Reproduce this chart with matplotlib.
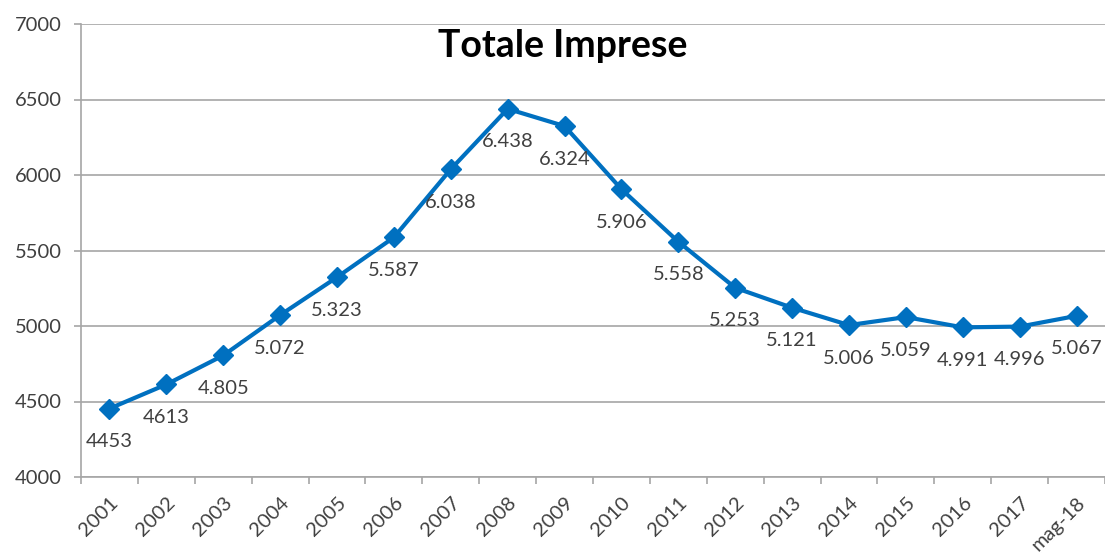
import numpy as np
import matplotlib
matplotlib.use("Agg")
import matplotlib.pyplot as plt

plt.rcParams['font.family'] = ['Lato', 'DejaVu Sans']

# dati
anni = ["2001", "2002", "2003", "2004", "2005", "2006", "2007", "2008", "2009",
        "2010", "2011", "2012", "2013", "2014", "2015", "2016", "2017", "mag-18"]
imprese = [4453, 4613, 4805, 5072, 5323, 5587, 6038, 6438, 6324,
           5906, 5558, 5253, 5121, 5006, 5059, 4991, 4996, 5067]
etichette = ["4453", "4613", "4.805", "5.072", "5.323", "5.587", "6.038", "6.438", "6.324",
             "5.906", "5.558", "5.253", "5.121", "5.006", "5.059", "4.991", "4.996", "5.067"]
yticks = [4000, 4500, 5000, 5500, 6000, 6500, 7000]

blu = "#0070C0"
grigio = "#A6A6A6"
testo = "#404040"

fig = plt.figure(figsize=(11.05, 5.54), dpi=100)
ax = fig.add_axes([81/1105, 1 - 477/554, 1 - 81/1105, (477 - 24)/554])

x = np.arange(len(anni))
ax.plot(x, imprese, color=blu, lw=3, marker='D', markersize=10, zorder=3)

for xi, yi, lab in zip(x, imprese, etichette):
    ax.annotate(lab, (xi, yi), xytext=(0, -33), textcoords='offset pixels',
                ha='center', va='center', fontsize=14.5, color=testo)

ax.set_xlim(-0.5, len(anni) - 0.5)
ax.set_ylim(4000, 7000)
ax.set_yticks(yticks)
ax.set_yticklabels([str(v) for v in yticks])
ax.set_xticks(x)
ax.set_xticklabels(anni, rotation=45, ha='right', rotation_mode='anchor')
ax.set_xticks(np.arange(-0.5, len(anni)), minor=True)

ax.tick_params(axis='x', which='major', length=0, pad=12, labelsize=14.5, labelcolor=testo)
ax.tick_params(axis='x', which='minor', length=5, width=1.2, color=grigio, direction='out')
ax.tick_params(axis='y', length=5, width=1.2, color=grigio, pad=9, labelsize=14.5, labelcolor=testo)

ax.grid(axis='y', color=grigio, lw=1.2)
ax.set_axisbelow(True)
for s in ['top', 'right']:
    ax.spines[s].set_visible(False)
for s in ['left', 'bottom']:
    ax.spines[s].set_color(grigio)
    ax.spines[s].set_linewidth(1.2)

fig.text(563/1105, 1 - 46/554, "Totale Imprese", ha='center', va='center',
         fontsize=27, fontweight='bold', color='black')

fig.savefig("out.png", dpi=100)
